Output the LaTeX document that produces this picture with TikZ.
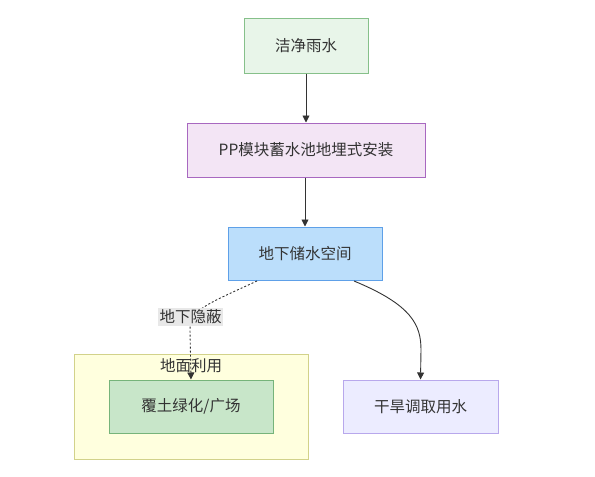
\documentclass[tikz,border=0pt]{standalone}
\usepackage{fontspec}
\setmainfont{Noto Sans CJK SC}
\usetikzlibrary{arrows.meta}
\definecolor{txt}{HTML}{333333}
\definecolor{rainfill}{HTML}{E8F5E9}\definecolor{raindraw}{HTML}{86C08A}
\definecolor{ppfill}{HTML}{F3E5F5}\definecolor{ppdraw}{HTML}{A868C0}
\definecolor{stfill}{HTML}{BBDEFB}\definecolor{stdraw}{HTML}{5EA0E8}
\definecolor{sgfill}{HTML}{FFFFDE}\definecolor{sgdraw}{HTML}{D2D28A}
\definecolor{grfill}{HTML}{C8E6C9}\definecolor{grdraw}{HTML}{76B47A}
\definecolor{dryfill}{HTML}{ECECFF}\definecolor{drydraw}{HTML}{B8A8EC}
\definecolor{lblfill}{HTML}{E8E8E8}
\tikzset{
  box/.style={draw, line width=1pt, inner sep=0pt, text=txt, font=\fontsize{15.5}{18}\selectfont},
  conn/.style={draw=txt, line width=0.9pt, -{Triangle[length=7pt,width=7pt]}},
}
\begin{document}
\begin{tikzpicture}[x=1pt,y=-1pt]
\useasboundingbox (0,0) rectangle (595,477);
% subgraph
\node[draw=sgdraw, fill=sgfill, line width=1pt, minimum width=234pt, minimum height=105pt, inner sep=0pt] (sg) at (191,406.5) {};
\node[text=txt, font=\fontsize{15.5}{18}\selectfont, inner sep=0pt] (sgt) at (191,366) {地面利用};
% nodes
\node[box, fill=rainfill, draw=raindraw, minimum width=124pt, minimum height=55pt] (rain) at (306,45.5) {洁净雨水};
\node[box, fill=ppfill, draw=ppdraw, minimum width=238pt, minimum height=54pt] (pp) at (306,150) {PP模块蓄水池地埋式安装};
\node[box, fill=stfill, draw=stdraw, minimum width=154pt, minimum height=53pt] (st) at (305,253.5) {地下储水空间};
\node[box, fill=grfill, draw=grdraw, minimum width=164pt, minimum height=53pt] (gr) at (191,406.5) {覆土绿化/广场};
\node[box, fill=dryfill, draw=drydraw, minimum width=155pt, minimum height=53pt] (dry) at (420.5,406.5) {干旱调取用水};
% connectors
\draw[conn] (rain) -- (pp);
\draw[conn] (pp.south -| st.north) -- (st);
\coordinate (s1) at (257,281);
\coordinate (s2) at (354,281);
\draw[conn, dash pattern=on 2pt off 2pt] (s1) .. controls (205,305) and (190,310) .. (190,330) -- (gr.north);
\draw[conn] (s2) .. controls (412,305) and (421,325) .. (421,350) -- (dry.north);
\node[fill=lblfill, text=txt, font=\fontsize{15.5}{18}\selectfont, inner sep=1.5pt] (lbl) at (190.5,317) {地下隐蔽};
\end{tikzpicture}
\end{document}
